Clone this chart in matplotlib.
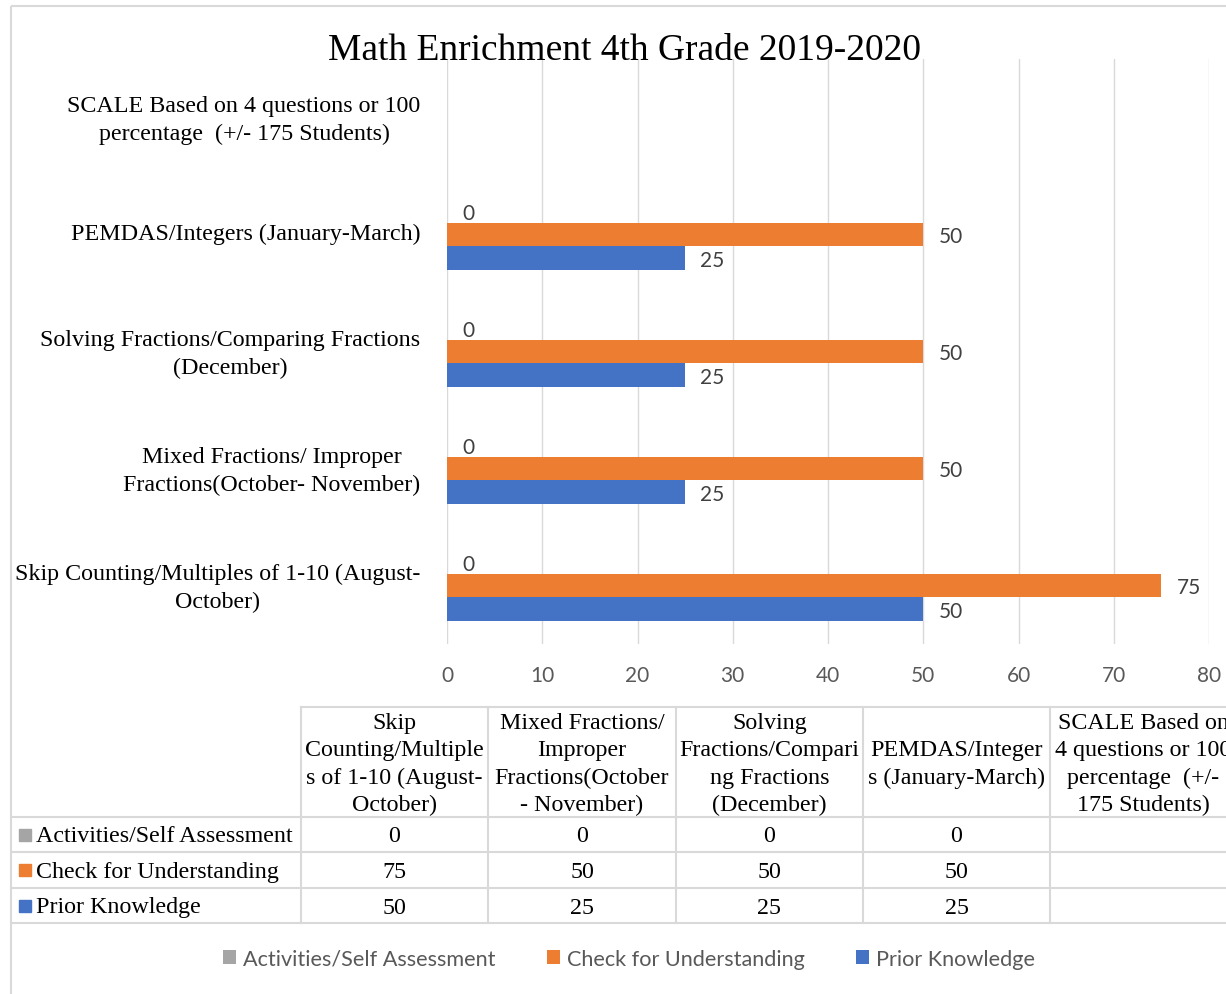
import numpy as np
import matplotlib.pyplot as plt
import matplotlib.transforms as mtransforms
from matplotlib.patches import Rectangle

plt.rcParams['font.family'] = ['Liberation Serif', 'DejaVu Serif']

# categories, bottom to top
categories = [
    "Skip Counting/Multiples of 1-10 (August-\nOctober)",
    "Mixed Fractions/ Improper\nFractions(October- November)",
    "Solving Fractions/Comparing Fractions\n(December)",
    "PEMDAS/Integers (January-March)",
    "SCALE Based on 4 questions or 100\npercentage  (+/- 175 Students)",
]
table_headers = [
    "Skip\nCounting/Multiple\ns of 1-10 (August-\nOctober)",
    "Mixed Fractions/\nImproper\nFractions(October\n- November)",
    "Solving\nFractions/Compari\nng Fractions\n(December)",
    "PEMDAS/Integer\ns (January-March)",
    "SCALE Based on\n4 questions or 100\npercentage  (+/-\n175 Students)",
]
series_names = ["Activities/Self Assessment", "Check for Understanding", "Prior Knowledge"]
activities = [0, 0, 0, 0, np.nan]
check_understanding = [75, 50, 50, 50, np.nan]
prior_knowledge = [50, 25, 25, 25, np.nan]
colors = ["#A5A5A5", "#ED7D31", "#4472C4"]
xticks = [0, 10, 20, 30, 40, 50, 60, 70, 80]

W, H = 1226, 995
fig = plt.figure(figsize=(W / 100, H / 100), dpi=100)

# overlay axes in pixel units for the frame and the data table
ov = fig.add_axes([0, 0, 1, 1], zorder=0)
ov.set_xlim(0, W)
ov.set_ylim(H, 0)
ov.axis('off')
ov.add_patch(Rectangle((11, 7), W + 20, H + 20, fill=False, ec='#D9D9D9', lw=1.5))

# bar chart
ax = fig.add_axes([447 / W, 1 - 645 / H, (1209 - 447) / W, 585 / H], zorder=1)
ax.patch.set_alpha(0)
y = np.arange(len(categories))
h = 0.205
series = [activities, check_understanding, prior_knowledge]
offsets = [h, 0, -h]
for vals, off, c, name in zip(series, offsets, colors, series_names):
    bars = ax.barh(y + off, vals, height=h, color=c, label=name, zorder=3)
    labels = ["" if np.isnan(v) else f"{v:g}" for v in vals]
    txts = ax.bar_label(bars, labels=labels, padding=11, fontsize=15, color='#404040',
                        family='Lato')
    for t in txts:
        t.set_va('center_baseline')

ax.set_xlim(0, 80)
ax.set_ylim(-0.5, len(categories) - 0.5)
ax.set_xticks(xticks)
ax.set_yticks(y)
ax.set_yticklabels(categories, fontsize=17.3, multialignment='center', linespacing=1.4)
ax.tick_params(axis='x', length=0, pad=15, labelsize=15, labelcolor='#595959')
ax.tick_params(axis='y', length=0, pad=19)
for lbl in ax.get_xticklabels():
    lbl.set_family('Lato')
# nudge the category names up a little
lift = mtransforms.ScaledTranslation(0, 4 / 100, fig.dpi_scale_trans)
for lbl in ax.get_yticklabels():
    lbl.set_transform(lbl.get_transform() + lift)
ax.grid(axis='x', color='#D9D9D9', lw=1.0, zorder=0)
for s in ax.spines.values():
    s.set_visible(False)

fig.text(624 / W, 1 - 51 / H, "Math Enrichment 4th Grade 2019-2020",
         fontsize=27, ha='center', va='center')

# data table under the chart
col_edges = [11, 301, 488, 676, 863, 1050, 1237]
row_edges = [708, 818, 853, 889, 924]
grid_c = '#D9D9D9'
ov.plot([col_edges[1], W + 5], [row_edges[0]] * 2, color=grid_c, lw=1.5)
for yy in row_edges[1:]:
    ov.plot([col_edges[0], W + 5], [yy, yy], color=grid_c, lw=1.5)
for xx in col_edges[1:]:
    ov.plot([xx, xx], [row_edges[0], row_edges[-1]], color=grid_c, lw=1.5)

for j, head in enumerate(table_headers):
    cx = (col_edges[j + 1] + col_edges[j + 2]) / 2
    ov.text(cx, (row_edges[0] + row_edges[1]) / 2 + 1.5, head, fontsize=17.3,
            ha='center', va='center', multialignment='center', linespacing=1.4)

for i, (name, vals, c) in enumerate(zip(series_names, series, colors)):
    cy = (row_edges[i + 1] + row_edges[i + 2]) / 2
    ov.add_patch(Rectangle((19, cy - 6), 12, 12, color=c))
    ov.text(36, cy + 1.5, name, fontsize=17.3, ha='left', va='center')
    for j, v in enumerate(vals):
        if np.isnan(v):
            continue
        cx = (col_edges[j + 1] + col_edges[j + 2]) / 2
        ov.text(cx, cy + 1.5, f"{v:g}", fontsize=17.3, ha='center', va='center')

leg = fig.legend(loc='center', bbox_to_anchor=(629 / W, 1 - 960 / H), ncol=3,
                 frameon=False, handlelength=0.6, handleheight=0.6,
                 handletextpad=0.3, columnspacing=2.4,
                 prop={'family': 'Lato', 'size': 15.6})
for t in leg.get_texts():
    t.set_color('#595959')

fig.savefig('out.png', dpi=100)
